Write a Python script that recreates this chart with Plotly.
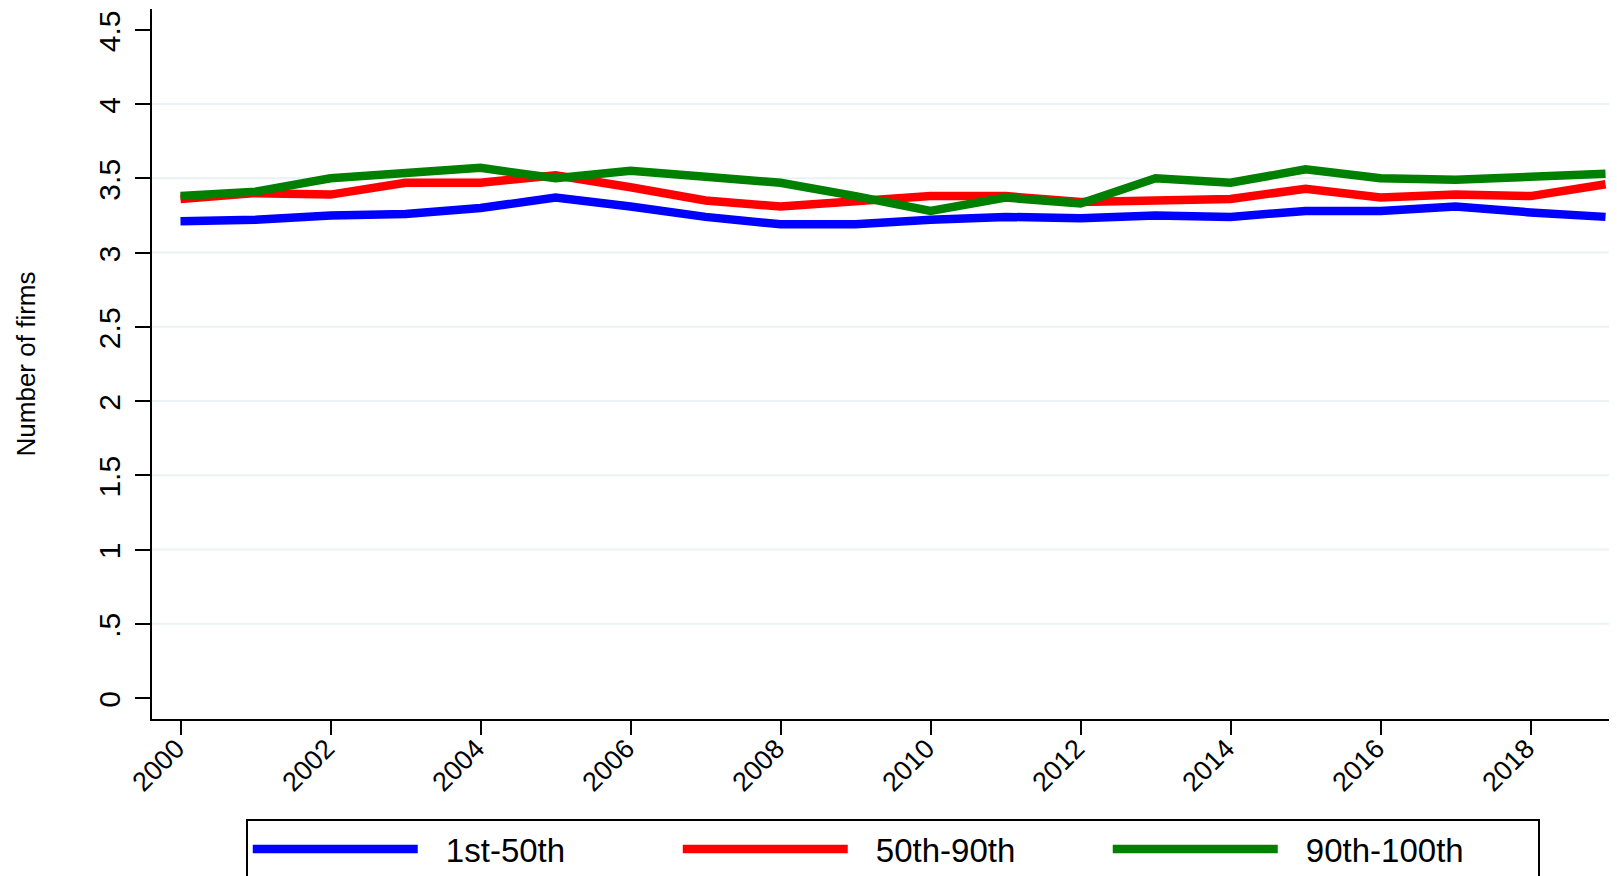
import plotly.graph_objects as go

years = list(range(2000, 2020))
series_names = ["1st-50th", "50th-90th", "90th-100th"]
series_colors = ["#0000ff", "#ff0000", "#008000"]

bottom_50 = [3.21, 3.22, 3.25, 3.26, 3.30, 3.37, 3.31, 3.24, 3.19, 3.19,
             3.22, 3.24, 3.23, 3.25, 3.24, 3.28, 3.28, 3.31, 3.27, 3.24]
mid_50_90 = [3.36, 3.40, 3.39, 3.47, 3.47, 3.52, 3.44, 3.35, 3.31, 3.34,
             3.38, 3.38, 3.34, 3.35, 3.36, 3.43, 3.37, 3.39, 3.38, 3.46]
top_90_100 = [3.38, 3.41, 3.50, 3.54, 3.57, 3.50, 3.55, 3.51, 3.47, 3.38,
              3.28, 3.37, 3.33, 3.50, 3.47, 3.56, 3.50, 3.49, 3.51, 3.53]

y_ticks = [0, 0.5, 1, 1.5, 2, 2.5, 3, 3.5, 4, 4.5]
y_tick_labels = ["0", ".5", "1", "1.5", "2", "2.5", "3", "3.5", "4", "4.5"]
grid_values = [0.5, 1, 1.5, 2, 2.5, 3, 3.5, 4]
x_ticks = list(range(2000, 2019, 2))

FONT = "Arial, Liberation Sans, sans-serif"
LEGEND_PAD = "\u2002\u2009"

fig = go.Figure()
for name, vals, col in zip(series_names, [bottom_50, mid_50_90, top_90_100], series_colors):
    fig.add_trace(go.Scatter(x=years, y=vals, mode="lines", name=LEGEND_PAD + name,
                             line=dict(color=col, width=8.5)))

for g in grid_values:
    fig.add_shape(type="line", xref="paper", yref="y", x0=0, x1=1, y0=g, y1=g,
                  line=dict(color="#eaf2f3", width=2), layer="below")

fig.update_layout(
    width=1609, height=868,
    margin=dict(l=144, r=0, t=1, b=157, autoexpand=False),
    paper_bgcolor="white", plot_bgcolor="white",
    font=dict(family=FONT, color="black"),
    showlegend=True,
    legend=dict(orientation="h", x=0.064, y=-0.1408, xanchor="left", yanchor="top",
                bordercolor="black", borderwidth=2, bgcolor="white",
                font=dict(size=33, family=FONT), itemwidth=165, entrywidth=250,
                tracegroupgap=0),
    xaxis=dict(range=[1999.62, 2019.153], tickmode="array", tickvals=x_ticks,
               ticktext=[str(t) for t in x_ticks], tickangle=-45, automargin=False,
               showgrid=False, zeroline=False, showline=True, linecolor="black",
               linewidth=2, ticks="outside", ticklen=14, tickwidth=2, tickcolor="black",
               tickfont=dict(size=27, family=FONT), ticklabelstandoff=-13,
               ticklabelshift=-4, ticklabeloverflow="allow"),
    yaxis=dict(range=[-0.1415, 4.64], tickmode="array", tickvals=y_ticks,
               ticktext=y_tick_labels, tickangle=-90, automargin=False,
               showgrid=False, zeroline=False, showline=True, linecolor="black",
               linewidth=2, ticks="outside", ticklen=15, tickwidth=2, tickcolor="black",
               tickfont=dict(size=30, family=FONT), ticklabelstandoff=3,
               ticklabelshift=6, ticklabeloverflow="allow",
               title=dict(text="Number of firms", font=dict(size=26, family=FONT),
                          standoff=50)),
)

fig.write_html("out.html")
